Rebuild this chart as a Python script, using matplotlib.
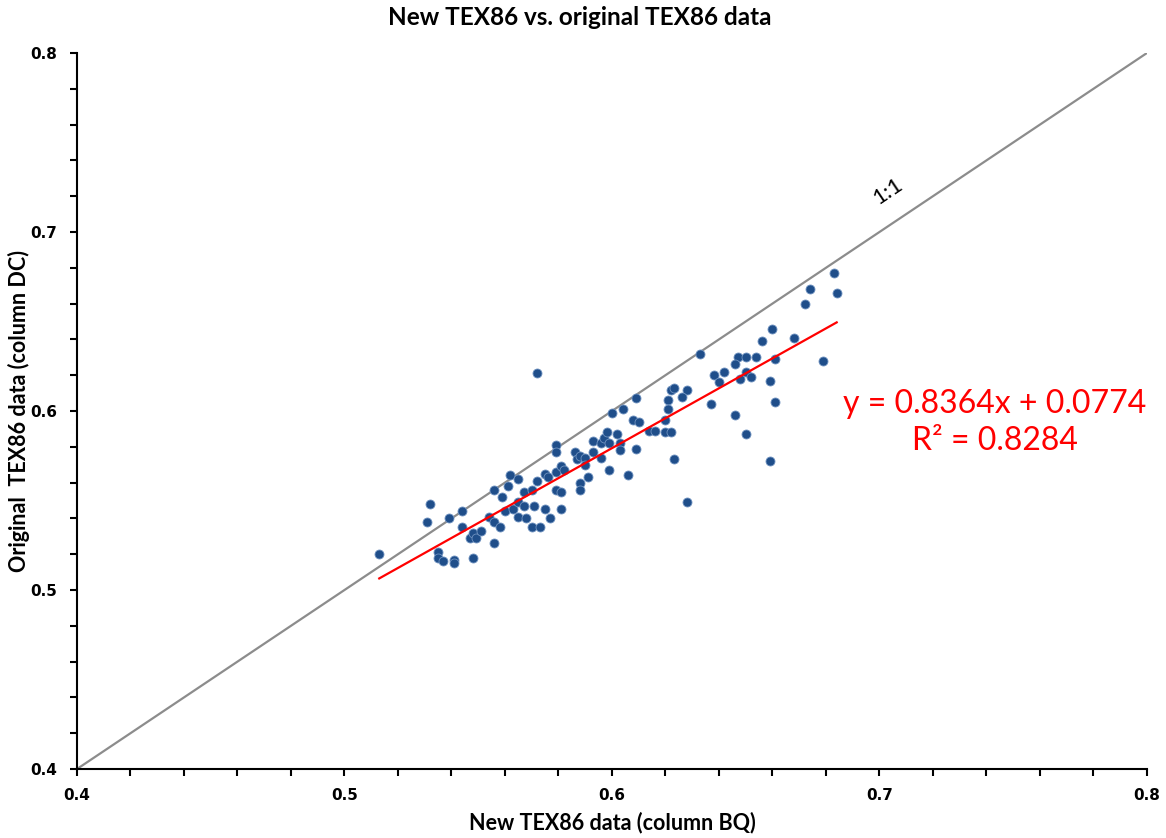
import numpy as np
import matplotlib
matplotlib.use("Agg")
import matplotlib.pyplot as plt
from matplotlib.ticker import MultipleLocator

# New TEX86 (column BQ) vs original TEX86 (column DC)
new_tex86 = [
    0.513, 0.532, 0.531, 0.539, 0.544, 0.544, 0.535, 0.535, 0.537, 0.541,
    0.541, 0.548, 0.547, 0.548, 0.549, 0.551, 0.554, 0.556, 0.556, 0.556,
    0.558, 0.559, 0.561, 0.562, 0.565, 0.560, 0.563, 0.565, 0.567, 0.567,
    0.565, 0.568, 0.570, 0.573, 0.570, 0.571, 0.572, 0.575, 0.576, 0.577,
    0.575, 0.579, 0.581, 0.581, 0.579, 0.579, 0.579, 0.581, 0.582, 0.586,
    0.587, 0.588, 0.590, 0.590, 0.591, 0.588, 0.588, 0.593, 0.593, 0.596,
    0.596, 0.597, 0.598, 0.599, 0.599, 0.572, 0.600, 0.604, 0.602, 0.603,
    0.603, 0.606, 0.609, 0.608, 0.610, 0.609, 0.614, 0.616, 0.621, 0.621,
    0.620, 0.620, 0.622, 0.623, 0.622, 0.623, 0.628, 0.626, 0.628, 0.633,
    0.637, 0.638, 0.642, 0.640, 0.646, 0.647, 0.646, 0.650, 0.650, 0.648,
    0.652, 0.654, 0.650, 0.659, 0.661, 0.661, 0.659, 0.656, 0.660, 0.668,
    0.679, 0.672, 0.674, 0.684, 0.683,
]
orig_tex86 = [
    0.520, 0.548, 0.538, 0.540, 0.544, 0.535, 0.521, 0.518, 0.516, 0.517,
    0.515, 0.518, 0.529, 0.532, 0.529, 0.533, 0.541, 0.538, 0.556, 0.526,
    0.535, 0.552, 0.558, 0.564, 0.562, 0.544, 0.545, 0.549, 0.555, 0.547,
    0.541, 0.540, 0.535, 0.535, 0.556, 0.547, 0.561, 0.565, 0.563, 0.540,
    0.545, 0.556, 0.555, 0.545, 0.581, 0.577, 0.566, 0.569, 0.567, 0.577,
    0.573, 0.575, 0.574, 0.570, 0.563, 0.560, 0.556, 0.583, 0.577, 0.574,
    0.582, 0.585, 0.588, 0.582, 0.567, 0.621, 0.599, 0.601, 0.587, 0.582,
    0.578, 0.564, 0.607, 0.595, 0.594, 0.579, 0.589, 0.589, 0.606, 0.601,
    0.595, 0.588, 0.588, 0.573, 0.612, 0.613, 0.612, 0.608, 0.549, 0.632,
    0.604, 0.620, 0.622, 0.616, 0.598, 0.630, 0.626, 0.630, 0.622, 0.618,
    0.619, 0.630, 0.587, 0.617, 0.629, 0.605, 0.572, 0.639, 0.646, 0.641,
    0.628, 0.660, 0.668, 0.666, 0.677,
]

slope = 0.8364
intercept = 0.0774
r_squared = 0.8284

x = np.array(new_tex86)
y = np.array(orig_tex86)

fig = plt.figure(figsize=(11.66, 8.38), dpi=100)
ax = fig.add_axes([0.066, 0.0823, 0.9177, 0.8545])

# 1:1 line
ax.plot([0.4, 0.8], [0.4, 0.8], color="#8c8c8c", lw=1.6, zorder=1)
ax.text(0.703, 0.723, "1:1", rotation=33.9, fontsize=16, ha="center",
        va="center", family="Lato")

ax.scatter(x, y, s=42, color="#1f4e8a", edgecolor="#6f92c0", linewidth=0.6,
           zorder=3)

# trend line
xf = np.array([x.min(), x.max()])
ax.plot(xf, slope * xf + intercept, color="#ff0000", lw=1.6, zorder=4)
ax.text(0.743, 0.5935, "y = %.4fx + %.4f\nR² = %.4f" % (slope, intercept, r_squared),
        color="#ff0000", fontsize=23, ha="center", va="center",
        family="Lato", linespacing=1.3)

ax.set_xlim(0.4, 0.8)
ax.set_ylim(0.4, 0.8)
ax.xaxis.set_major_locator(MultipleLocator(0.1))
ax.yaxis.set_major_locator(MultipleLocator(0.1))
ax.xaxis.set_minor_locator(MultipleLocator(0.02))
ax.yaxis.set_minor_locator(MultipleLocator(0.02))
ax.tick_params(which="both", direction="out", length=5, width=1.5,
               labelsize=11, pad=9)
for lab in ax.get_xticklabels() + ax.get_yticklabels():
    lab.set_fontweight("bold")
ax.spines["top"].set_visible(False)
ax.spines["right"].set_visible(False)
ax.spines["left"].set_linewidth(1.5)
ax.spines["bottom"].set_linewidth(1.5)

# axis titles placed directly
fig.text(0.525, 0.019, "New TEX86 data (column BQ)", fontsize=15.5,
         fontweight="bold", family="Lato", ha="center", va="center")
fig.text(0.016, 0.51, "Original  TEX86 data (column DC)", fontsize=15.5,
         fontweight="bold", family="Lato", ha="center", va="center",
         rotation=90)
fig.text(0.497, 0.979, "New TEX86 vs. original TEX86 data", fontsize=17.5,
         fontweight="bold", family="Lato", ha="center", va="center")

fig.savefig("out.png", dpi=100)
